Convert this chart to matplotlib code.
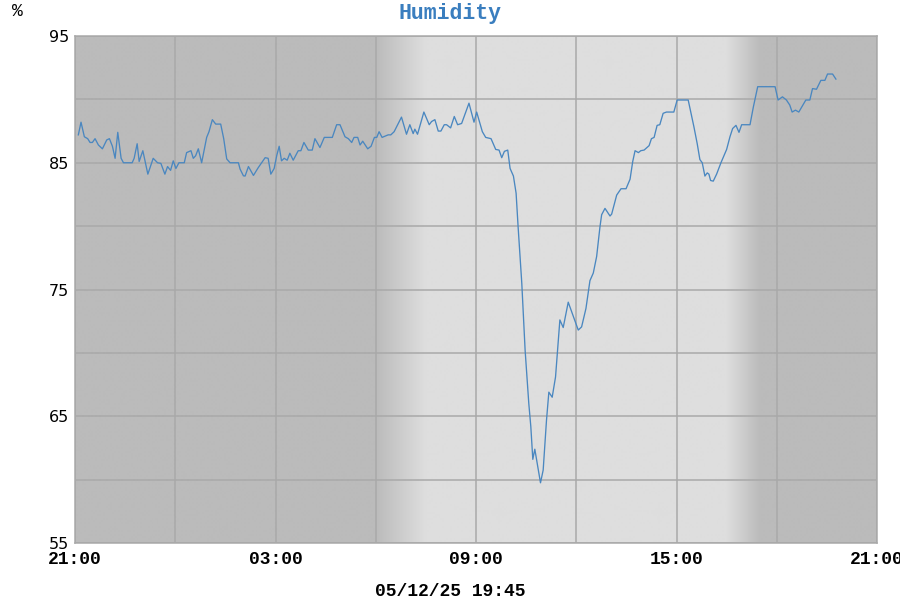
import matplotlib
matplotlib.use("Agg")
import matplotlib.pyplot as plt
import numpy as np

# hours since 21:00 (previous day) and relative humidity in %
hours = [
    0.10, 0.18, 0.28, 0.38, 0.45, 0.52, 0.60, 0.70, 0.82, 0.95, 1.03, 1.12, 1.20, 1.28,
    1.38, 1.45, 1.71, 1.77, 1.86, 1.92, 2.03, 2.18, 2.34, 2.47, 2.57, 2.69, 2.77, 2.86,
    2.94, 3.02, 3.11, 3.27, 3.34, 3.47, 3.54, 3.61, 3.69, 3.79, 3.94, 4.01, 4.11, 4.21,
    4.36, 4.45, 4.54, 4.64, 4.89, 4.94, 5.04, 5.09, 5.19, 5.34, 5.48, 5.69, 5.78, 5.86,
    5.96, 6.04, 6.11, 6.18, 6.26, 6.35, 6.43, 6.53, 6.68, 6.76, 6.85, 6.98, 7.10, 7.18,
    7.33, 7.46, 7.70, 7.83, 7.93, 8.08, 8.18, 8.28, 8.35, 8.46, 8.53, 8.61, 8.76, 8.86,
    8.96, 9.03, 9.10, 9.19, 9.37, 9.45, 9.55, 9.77, 9.92, 10.02, 10.12, 10.17, 10.25,
    10.44, 10.60, 10.67, 10.77, 10.87, 10.95, 11.05, 11.12, 11.24, 11.35, 11.45, 11.57,
    11.79, 11.94, 12.02, 12.19, 12.29, 12.45, 12.59, 12.69, 12.77, 12.85, 12.95, 13.02,
    13.12, 13.20, 13.26, 13.37, 13.47, 13.58, 13.64, 13.70, 13.76, 13.93, 14.01, 14.11,
    14.18, 14.28, 14.38, 14.51, 14.61, 14.76, 14.91, 15.06, 15.16, 15.29, 15.41, 15.51,
    15.61, 15.71, 15.76, 15.86, 16.01, 16.06, 16.21, 16.34, 16.49, 16.61, 16.69, 16.76,
    16.86, 16.93, 17.03, 17.18, 17.25, 17.33, 17.42, 17.50, 17.60, 17.70, 17.92, 18.02,
    18.35, 18.52, 18.62, 18.70, 18.77, 18.85, 18.92, 18.97, 19.02, 19.10, 19.20, 19.33,
    19.50, 19.60, 19.68, 19.78, 19.87, 19.95, 20.20, 20.30, 20.43, 20.95, 21.04, 21.17,
    21.29, 21.39, 21.46, 21.56, 21.66, 21.87, 21.99, 22.07, 22.19, 22.32, 22.44, 22.52,
    22.67, 22.77,
]
humidity = [
    87.2, 88.2, 87.05, 86.9, 86.6, 86.6, 86.9, 86.4, 86.1, 86.8, 86.9, 86.3, 85.35, 87.4,
    85.35, 85.0, 85.0, 85.35, 86.5, 85.1, 85.95, 84.1, 85.35, 85.0, 84.95, 84.1, 84.7, 84.4,
    85.15, 84.55, 85.0, 85.0, 85.8, 85.95, 85.35, 85.55, 86.1, 85.0, 87.0, 87.45, 88.4, 88.05,
    88.05, 86.9, 85.3, 85.0, 85.0, 84.5, 83.97, 83.95, 84.7, 84.0, 84.6, 85.4, 85.35, 84.1,
    84.55, 85.6, 86.3, 85.15, 85.35, 85.2, 85.75, 85.2, 85.95, 85.95, 86.6, 86.0, 86.0, 86.9,
    86.2, 87.0, 87.0, 88.0, 88.0, 87.05, 86.9, 86.6, 87.0, 87.0, 86.4, 86.7, 86.1, 86.3,
    87.0, 87.0, 87.45, 87.0, 87.2, 87.2, 87.45, 88.6, 87.25, 88.0, 87.3, 87.65, 87.25,
    89.0, 88.0, 88.25, 88.4, 87.5, 87.5, 88.0, 88.0, 87.75, 88.65, 88.0, 88.1,
    89.7, 88.2, 89.0, 87.45, 87.0, 86.9, 86.05, 86.0, 85.4, 85.9, 86.0, 84.55,
    83.95, 82.6, 79.95, 75.5, 70.2, 66.0, 64.2, 61.6, 62.4, 59.75, 60.75, 64.7,
    66.9, 66.5, 68.1, 72.6, 72.0, 74.0, 72.9, 71.8, 72.05, 73.5, 75.7, 76.3,
    77.6, 79.95, 80.9, 81.4, 80.8, 80.95, 82.45, 82.95, 82.95, 83.7, 85.1, 85.95,
    85.8, 85.95, 86.0, 86.35, 86.9, 87.0, 87.95, 88.0, 88.9, 89.0, 89.0, 89.95,
    89.95, 87.85, 86.5, 85.25, 85.0, 83.95, 84.2, 84.1, 83.6, 83.55, 84.1, 85.0,
    86.05, 87.05, 87.7, 87.95, 87.4, 88.0, 88.0, 89.4, 91.0, 91.0, 89.95, 90.2,
    89.95, 89.55, 89.0, 89.15, 89.0, 89.95, 89.95, 90.85, 90.8, 91.5, 91.5, 92.0,
    92.0, 91.6,
]

tick_hours = [0, 6, 12, 18, 24]
tick_labels = ["21:00", "03:00", "09:00", "15:00", "21:00"]
y_ticks = [55, 65, 75, 85, 95]

# twilight (dark -> light in the morning, light -> dark in the evening)
dawn = (9.0, 10.5)
dusk = (19.5, 20.5)

night_grey = 187 / 255
day_grey = 222 / 255

mono = "Liberation Mono"

fig = plt.figure(figsize=(9, 6), dpi=100)
ax = fig.add_axes([75 / 900, 1 - 543 / 600, 802 / 900, 507 / 600])

# shaded day/night background
xs = np.linspace(0, 24, 2401)
shade = np.interp(xs, [0, dawn[0], dawn[1], dusk[0], dusk[1], 24],
                  [night_grey, night_grey, day_grey, day_grey, night_grey, night_grey])
img = np.repeat(shade[np.newaxis, :, np.newaxis], 3, axis=2)
ax.imshow(img, extent=[0, 24, 55, 95], aspect="auto", zorder=0, interpolation="bilinear")

ax.plot(hours, humidity, color="#4a87c0", lw=0.95, zorder=3)

ax.set_xlim(0, 24)
ax.set_ylim(55, 95)
ax.set_xticks(tick_hours)
ax.set_xticks([3, 9, 15, 21], minor=True)
ax.set_yticks(y_ticks)
ax.set_yticks([60, 70, 80, 90], minor=True)
ax.set_xticklabels(tick_labels, fontfamily=mono, fontweight="bold", fontsize=13)
ax.set_yticklabels([str(v) for v in y_ticks], fontfamily="DejaVu Sans", fontsize=11.5)
ax.tick_params(which="both", length=0)
ax.tick_params(axis="x", pad=6)
ax.tick_params(axis="y", pad=4)

ax.grid(True, which="both", color="#a9a9a9", lw=1.1, zorder=1)
ax.set_axisbelow(False)
for s in ax.spines.values():
    s.set_color("#a9a9a9")
    s.set_linewidth(1.1)
    s.set_zorder(1)

fig.text(450 / 900, 1 - 13 / 600, "Humidity", ha="center", va="center",
         fontfamily=mono, fontweight="bold", fontsize=15.5, color="#3a7ebf")
fig.text(17 / 900, 1 - 12 / 600, "%", ha="center", va="center",
         fontfamily=mono, fontsize=13, color="black")
fig.text(450 / 900, 1 - 591 / 600, "05/12/25 19:45", ha="center", va="center",
         fontfamily=mono, fontweight="bold", fontsize=13, color="black")

fig.savefig("out.png", dpi=100)
